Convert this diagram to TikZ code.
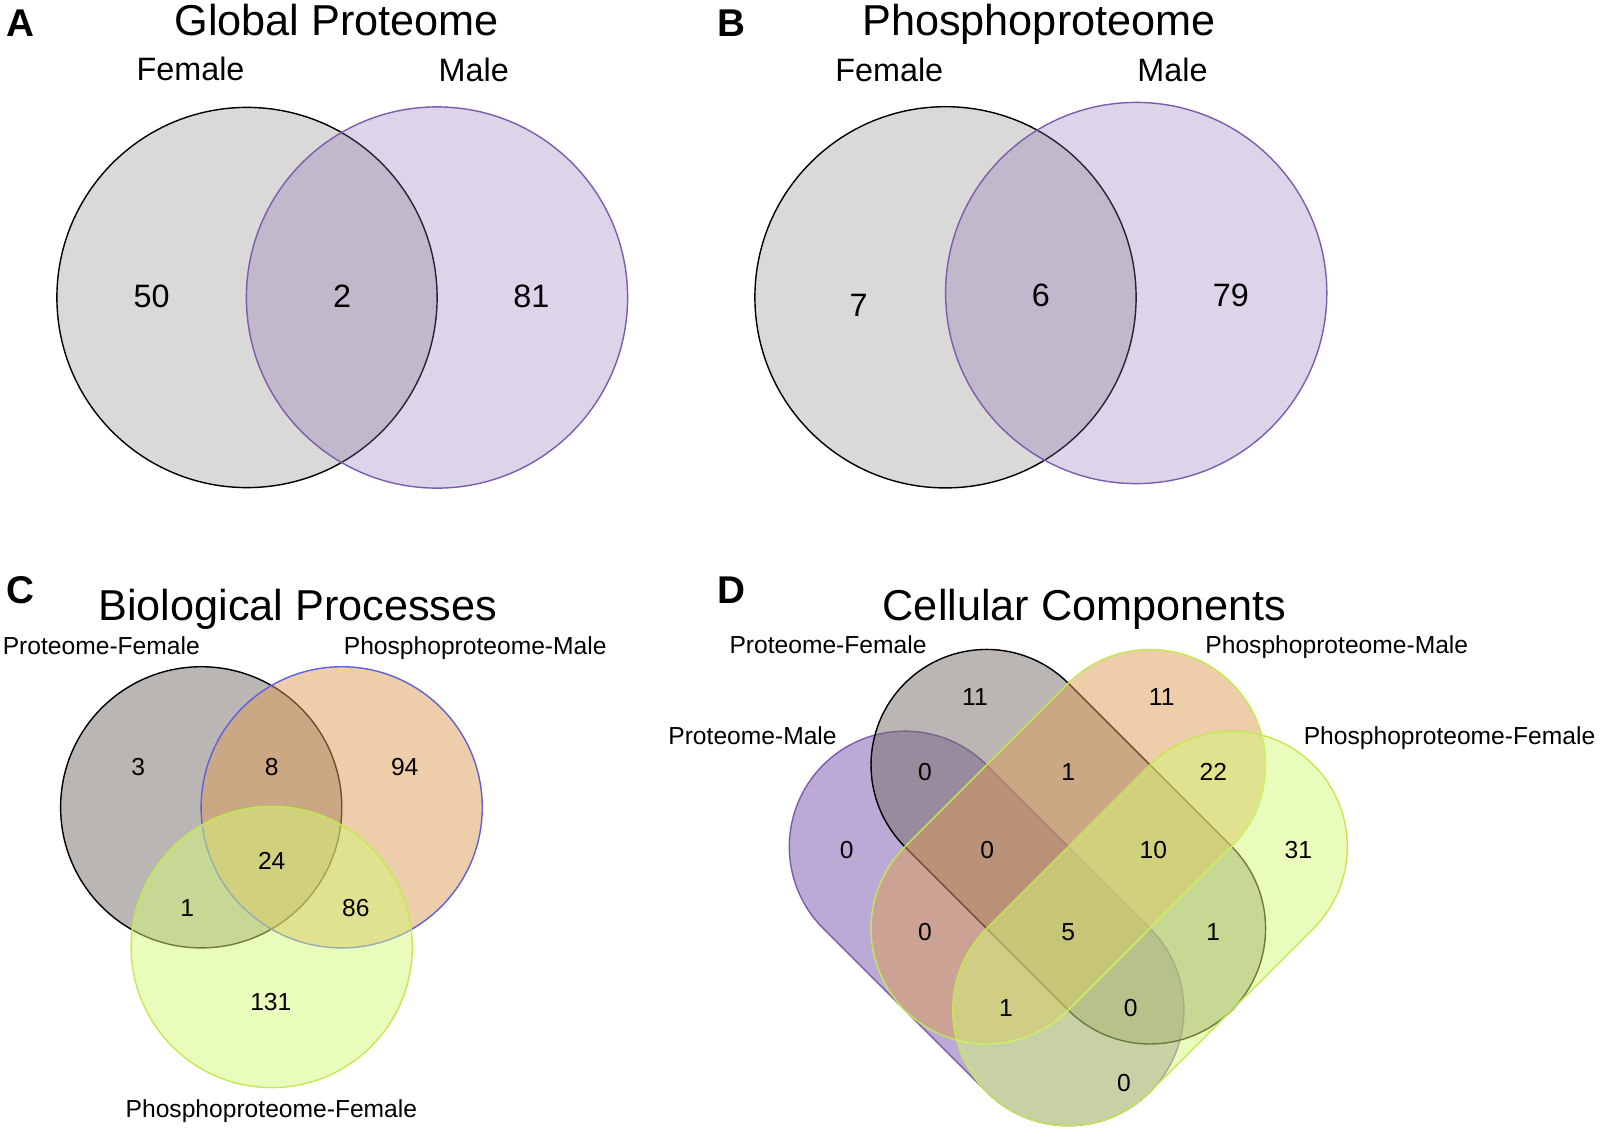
\documentclass[tikz,border=0pt]{standalone}
\usepackage{fontspec}
\setmainfont{Liberation Sans}
\usetikzlibrary{shapes.misc}
\definecolor{femgray}{RGB}{128,128,122}
\definecolor{malepurple}{RGB}{138,112,178}
\definecolor{purpleline}{RGB}{125,92,175}
\definecolor{setgray}{RGB}{117,109,103}
\definecolor{setorange}{RGB}{221,155,85}
\definecolor{setyellow}{RGB}{213,249,119}
\definecolor{setpurple}{RGB}{121,85,173}
\definecolor{blueline}{RGB}{95,95,225}
\definecolor{yellowline}{RGB}{196,232,80}

\begin{document}
\begin{tikzpicture}[x=0.01cm, y=-0.01cm, line width=0.4pt,
  set node/.style={circle,draw,inner sep=0pt},
  pill node/.style={rounded rectangle,draw,inner sep=0pt,minimum width=4.62cm,minimum height=2.31cm},
  letter text/.style={anchor=base,inner sep=0pt,font=\fontsize{11}{13}\selectfont\bfseries},
  title text/.style={anchor=base,inner sep=0pt,font=\fontsize{12.3}{15}\selectfont},
  big text/.style={anchor=base,inner sep=0pt,font=\fontsize{9.2}{11}\selectfont},
  small text/.style={anchor=base,inner sep=0pt,font=\fontsize{7}{8.5}\selectfont}]
\useasboundingbox (0,0) rectangle (1600,1130);

% A: global proteome
\begin{scope}[fill opacity=0.3]
\node[set node, minimum size=3.8cm, fill=femgray, draw=black] (aF) at (247,297.5) {};
\node[set node, minimum size=3.81cm, fill=malepurple, draw=purpleline] (aM) at (437,297.5) {};
\end{scope}
\node[letter text] (lA) at (20,36.7) {A};
\node[title text] (tA) at (336.7,35) {Global Proteome};
\node[big text] (aFl) at (190.5,80.7) {Female};
\node[big text] (aMl) at (473.8,81) {Male};
\node[big text] (aF1) at (151.7,307.3) {50};
\node[big text] (aFM) at (342,307) {2};
\node[big text] (aM1) at (531.3,307) {81};

% B: phosphoproteome
\begin{scope}[fill opacity=0.3]
\node[set node, minimum size=3.81cm, fill=femgray, draw=black] (bF) at (945.5,297.3) {};
\node[set node, minimum size=3.81cm, fill=malepurple, draw=purpleline] (bM) at (1136.2,293) {};
\end{scope}
\node[letter text] (lB) at (731.7,36) {B};
\node[title text] (tB) at (1039,35) {Phosphoproteome};
\node[big text] (bFl) at (889.3,81) {Female};
\node[big text] (bMl) at (1172.5,81) {Male};
\node[big text] (bF1) at (858.7,316.7) {7};
\node[big text] (bFM) at (1040.8,306) {6};
\node[big text] (bM1) at (1230.8,306) {79};

% C: biological processes
\begin{scope}[fill opacity=0.5]
\node[set node, minimum size=2.81cm, fill=setgray, draw=black] (cPF) at (201.2,807.3) {};
\node[set node, minimum size=2.81cm, fill=setorange, draw=blueline] (cHM) at (341.7,807.3) {};
\node[set node, minimum size=2.81cm, fill=setyellow, draw=yellowline] (cHF) at (271.7,947) {};
\end{scope}
\node[letter text] (lC) at (20,603.3) {C};
\node[title text] (tC) at (297.8,620) {Biological Processes};
\node[small text] (cPFl) at (101.3,654) {Proteome-Female};
\node[small text] (cHMl) at (475.2,654) {Phosphoproteome-Male};
\node[small text] (cHFl) at (271.4,1117) {Phosphoproteome-Female};
\node[small text] (c1) at (138.3,775.7) {3};
\node[small text] (c2) at (271.7,775.7) {8};
\node[small text] (c3) at (404.7,775.7) {94};
\node[small text] (c4) at (271.7,869.3) {24};
\node[small text] (c5) at (187.2,916.7) {1};
\node[small text] (c6) at (355.8,916.7) {86};
\node[small text] (c7) at (270.8,1010) {131};

% D: cellular components
\begin{scope}[fill opacity=0.5]
\node[pill node, rotate=-45, fill=setpurple, draw=purpleline] (dPM) at (986.6,928.4) {};
\node[pill node, rotate=-45, fill=setgray, draw=black] (dPF) at (1068.3,846.7) {};
\node[pill node, rotate=45, fill=setorange, draw=yellowline] (dHM) at (1068.3,846.7) {};
\node[pill node, rotate=45, fill=setyellow, draw=yellowline] (dHF) at (1150,928.4) {};
\end{scope}
\node[letter text] (lD) at (731.7,603.3) {D};
\node[title text] (tD) at (1084.7,620) {Cellular Components};
\node[small text] (dPFl) at (828,653.3) {Proteome-Female};
\node[small text] (dPMl) at (752.5,744.3) {Proteome-Male};
\node[small text] (dHMl) at (1336.8,653.3) {Phosphoproteome-Male};
\node[small text] (dHFl) at (1449.5,744) {Phosphoproteome-Female};
\node[small text] (d1) at (975,705) {11};
\node[small text] (d2) at (1161.7,705) {11};
\node[small text] (d3) at (925,780) {0};
\node[small text] (d4) at (1068.3,780) {1};
\node[small text] (d5) at (1213.3,780) {22};
\node[small text] (d6) at (846.7,858.3) {0};
\node[small text] (d7) at (987.3,858.3) {0};
\node[small text] (d8) at (1153.3,858.3) {10};
\node[small text] (d9) at (1298.3,858.3) {31};
\node[small text] (d10) at (925,940) {0};
\node[small text] (d11) at (1068.3,940) {5};
\node[small text] (d12) at (1213.3,940) {1};
\node[small text] (d13) at (1006,1016) {1};
\node[small text] (d14) at (1130.7,1016) {0};
\node[small text] (d15) at (1124,1091.7) {0};
\end{tikzpicture}
\end{document}
